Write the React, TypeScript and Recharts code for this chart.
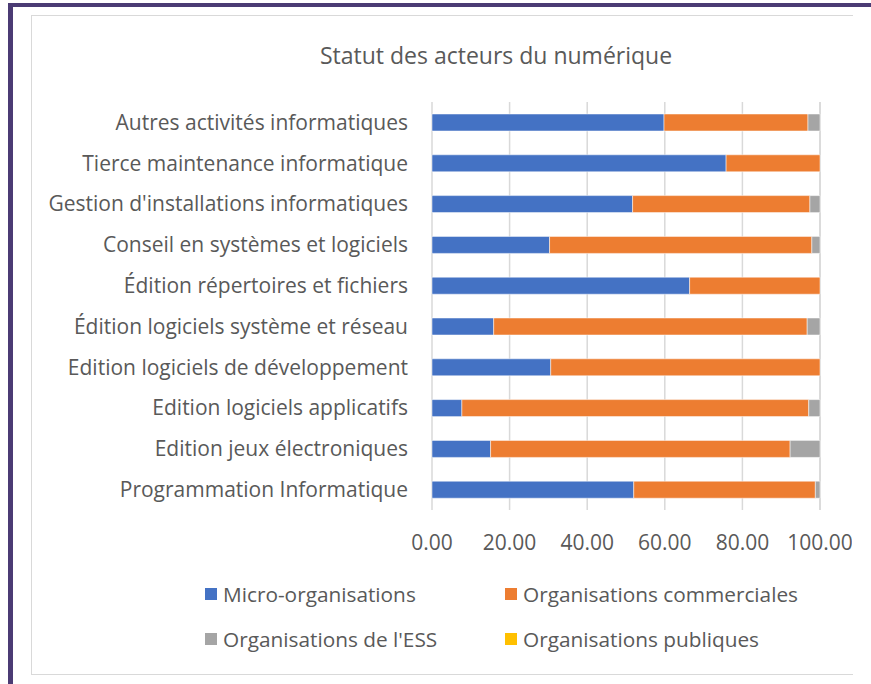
import { BarChart, Bar, XAxis, YAxis, CartesianGrid, Legend } from 'recharts';

const categories = [
  'Autres activités informatiques',
  'Tierce maintenance informatique',
  "Gestion d'installations informatiques",
  'Conseil en systèmes et logiciels',
  'Édition répertoires et fichiers',
  'Édition logiciels système et réseau',
  'Edition logiciels de développement',
  'Edition logiciels applicatifs',
  'Edition jeux électroniques',
  'Programmation Informatique',
];
const micro = [59.8, 75.8, 51.7, 30.3, 66.4, 15.9, 30.6, 7.7, 15.1, 52.0];
const commerciales = [37.1, 24.2, 45.7, 67.6, 33.6, 80.8, 69.4, 89.4, 77.2, 46.8];
const ess = [3.1, 0, 2.6, 2.1, 0, 3.3, 0, 2.9, 7.7, 1.2];
const publiques = [0, 0, 0, 0, 0, 0, 0, 0, 0, 0];
const xTicks = [0, 20, 40, 60, 80, 100];

const series = [
  { key: 'micro', name: 'Micro-organisations', color: '#4472c4' },
  { key: 'commerciales', name: 'Organisations commerciales', color: '#ed7d31' },
  { key: 'ess', name: "Organisations de l'ESS", color: '#a5a5a5' },
  { key: 'publiques', name: 'Organisations publiques', color: '#ffc000' },
];

const data = categories.map((name, i) => ({
  name,
  micro: micro[i],
  commerciales: commerciales[i],
  ess: ess[i],
  publiques: publiques[i],
}));

const FONT = '"Open Sans", sans-serif';
const TEXT = '#595959';

function LegendGrid() {
  // 2 x 2 layout like the Excel legend
  const cols = [173, 473];
  const rows = [0, 45];
  return (
    <div style={{ position: 'relative', height: 70, fontFamily: FONT }}>
      {series.map((s, i) => (
        <div
          key={s.key}
          style={{
            position: 'absolute',
            left: cols[i % 2],
            top: rows[Math.floor(i / 2)] - 2,
            display: 'flex',
            alignItems: 'center',
            fontSize: 20.8,
            color: TEXT,
            whiteSpace: 'nowrap',
          }}
        >
          <span style={{ width: 12, height: 12, background: s.color, marginRight: 6 }} />
          {s.name}
        </div>
      ))}
    </div>
  );
}

export default function App() {
  return (
    <div style={{ position: 'absolute', left: 0, top: 0, width: 871, height: 684, background: '#fff', overflow: 'hidden' }}>
      {/* purple frame */}
      <div style={{ position: 'absolute', left: 8, top: 3, width: 863, height: 681, borderLeft: '5px solid #4b3b74', borderTop: '4px solid #4b3b74' }} />
      {/* chart area border */}
      <div style={{ position: 'absolute', left: 31, top: 15, width: 821, height: 658, borderLeft: '1px solid #d9d9d9', borderTop: '1px solid #d9d9d9', borderBottom: '1px solid #d9d9d9' }} />
      <div
        style={{
          position: 'absolute',
          left: 32,
          top: 39,
          width: 928,
          textAlign: 'center',
          fontFamily: FONT,
          fontSize: 23,
          color: TEXT,
        }}
      >
        Statut des acteurs du numérique
      </div>
      <div style={{ position: 'absolute', left: 32, top: 16 }}>
        <BarChart
          width={820}
          height={658}
          data={data}
          layout="vertical"
          margin={{ top: 86, right: 32, bottom: 0, left: 0 }}
          style={{ fontFamily: FONT }}
        >
          <CartesianGrid horizontal={false} stroke="#d9d9d9" strokeWidth={1.5} />
          <XAxis
            type="number"
            domain={[0, 100]}
            ticks={xTicks}
            tickFormatter={(v) => Number(v).toFixed(2)}
            axisLine={false}
            tickLine={false}
            tickMargin={19}
            height={74}
            tick={{ fill: TEXT, fontSize: 21 }}
          />
          <YAxis
            type="category"
            dataKey="name"
            width={400}
            axisLine={false}
            tickLine={false}
            tickMargin={18}
            interval={0}
            tick={{ fill: TEXT, fontSize: 21 }}
          />
          {series.map((s) => (
            <Bar
              key={s.key}
              dataKey={s.key}
              name={s.name}
              stackId="a"
              fill={s.color}
              barSize={17}
              stroke="#ffffff"
              strokeWidth={0.5}
              isAnimationActive={false}
            />
          ))}
          <Legend
            verticalAlign="bottom"
            content={() => <LegendGrid />}
            wrapperStyle={{ left: 0, top: 566, width: 820, height: 90 }}
          />
        </BarChart>
      </div>
    </div>
  );
}
